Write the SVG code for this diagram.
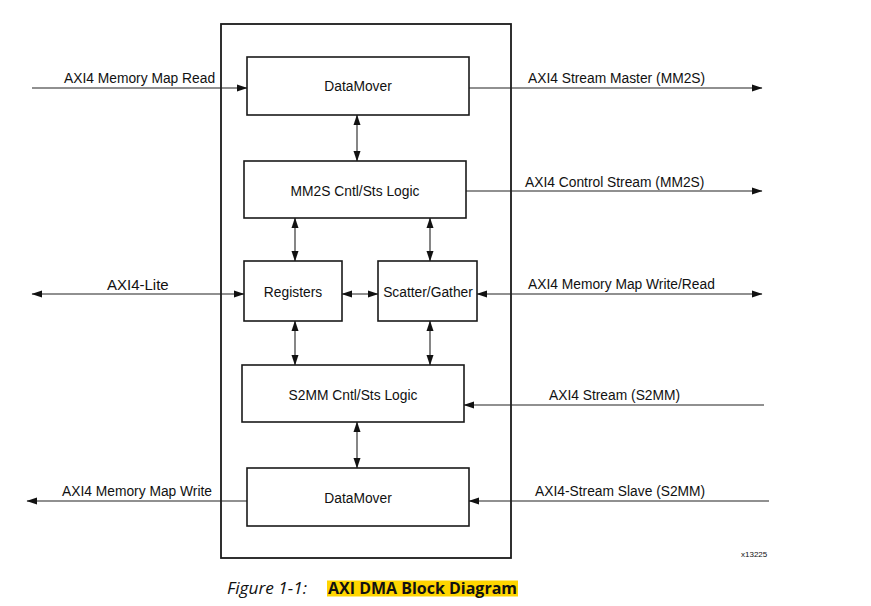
<svg xmlns="http://www.w3.org/2000/svg" width="871" height="606" viewBox="0 0 871 606">
<style>
.box{fill:#fff;stroke:#1a1a1a;stroke-width:1.6}
.outer{fill:none;stroke:#1a1a1a;stroke-width:1.8}
.ln{stroke:#222;stroke-width:1.1;fill:none}
.t{font-family:"Liberation Sans",Arial,sans-serif;font-size:13.8px;fill:#111}
.c{text-anchor:middle}
</style>
<defs>
<marker id="ah" markerWidth="11" markerHeight="8" refX="10" refY="4" orient="auto-start-reverse" markerUnits="userSpaceOnUse">
<path d="M0,0.5 L10.5,4 L0,7.5 z" fill="#111"/>
</marker>
</defs>
<rect class="outer" x="221" y="24" width="290" height="534"/>
<g id="connectors">
<line class="ln" x1="32" y1="88" x2="247" y2="88" marker-end="url(#ah)"/>
<line class="ln" x1="469" y1="88" x2="762" y2="88" marker-end="url(#ah)"/>
<line class="ln" x1="466" y1="191" x2="762" y2="191" marker-end="url(#ah)"/>
<line class="ln" x1="357" y1="115" x2="357" y2="161" marker-start="url(#ah)" marker-end="url(#ah)"/>
<line class="ln" x1="295" y1="218" x2="295" y2="261" marker-start="url(#ah)" marker-end="url(#ah)"/>
<line class="ln" x1="430" y1="218" x2="430" y2="261" marker-start="url(#ah)" marker-end="url(#ah)"/>
<line class="ln" x1="32" y1="294" x2="244" y2="294" marker-start="url(#ah)" marker-end="url(#ah)"/>
<line class="ln" x1="342" y1="294" x2="378" y2="294" marker-start="url(#ah)" marker-end="url(#ah)"/>
<line class="ln" x1="477" y1="294" x2="762" y2="294" marker-start="url(#ah)" marker-end="url(#ah)"/>
<line class="ln" x1="295" y1="321" x2="295" y2="365" marker-start="url(#ah)" marker-end="url(#ah)"/>
<line class="ln" x1="430" y1="321" x2="430" y2="365" marker-start="url(#ah)" marker-end="url(#ah)"/>
<line class="ln" x1="764" y1="405" x2="464" y2="405" marker-end="url(#ah)"/>
<line class="ln" x1="357" y1="422" x2="357" y2="468" marker-start="url(#ah)" marker-end="url(#ah)"/>
<line class="ln" x1="247" y1="501" x2="27" y2="501" marker-end="url(#ah)"/>
<line class="ln" x1="769" y1="501" x2="469" y2="501" marker-end="url(#ah)"/>
</g>
<g id="datamover-top"><rect class="box" x="247" y="57" width="222" height="58"/><text class="t c" x="358" y="91">DataMover</text></g>
<g id="mm2s"><rect class="box" x="244" y="161" width="222" height="57"/><text class="t c" x="355" y="195.5">MM2S Cntl/Sts Logic</text></g>
<g id="registers"><rect class="box" x="244" y="261" width="98" height="60"/><text class="t c" x="293" y="296.5">Registers</text></g>
<g id="sg"><rect class="box" x="378" y="261" width="99" height="60"/><text class="t c" x="428" y="296.5">Scatter/Gather</text></g>
<g id="s2mm"><rect class="box" x="242" y="365" width="222" height="57"/><text class="t c" x="353" y="399.5">S2MM Cntl/Sts Logic</text></g>
<g id="datamover-bottom"><rect class="box" x="247" y="468" width="222" height="58"/><text class="t c" x="358" y="503">DataMover</text></g>
<g id="labels">
<text class="t" x="64" y="83.3">AXI4 Memory Map Read</text>
<text class="t" x="528" y="83.3">AXI4 Stream Master (MM2S)</text>
<text class="t" x="525" y="186.7">AXI4 Control Stream (MM2S)</text>
<text class="t" x="107" y="290" style="font-size:15px">AXI4-Lite</text>
<text class="t" x="528" y="289.3">AXI4 Memory Map Write/Read</text>
<text class="t" x="549" y="400">AXI4 Stream (S2MM)</text>
<text class="t" x="62" y="495.7">AXI4 Memory Map Write</text>
<text class="t" x="535" y="496">AXI4-Stream Slave (S2MM)</text>
<text class="t" x="741" y="556.5" style="font-size:8px">x13225</text>
</g>
<g id="caption">
<rect x="327" y="580.5" width="191" height="16" fill="#ffd500"/>
<text x="227" y="594" textLength="80" lengthAdjust="spacingAndGlyphs" style="font-family:'Open Sans','Noto Sans',sans-serif;font-style:italic;font-size:16px;fill:#111">Figure 1-1:</text>
<text x="328" y="594" textLength="189" lengthAdjust="spacingAndGlyphs" style="font-family:'Open Sans','Noto Sans',sans-serif;font-weight:bold;font-size:16px;fill:#111">AXI DMA Block Diagram</text>
</g>
</svg>
